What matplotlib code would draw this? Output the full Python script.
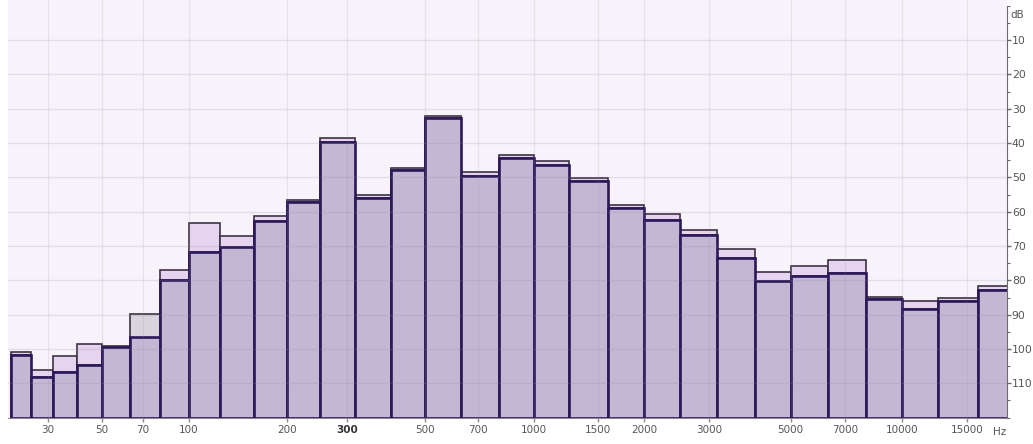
import numpy as np
import matplotlib
matplotlib.use("Agg")
import matplotlib.pyplot as plt

# ---- data ------------------------------------------------------------------
# 1/3-octave band (upper edge) frequencies, Hz
bands = np.array([25, 31.5, 40, 50, 63, 80, 100, 125, 160, 200, 250, 315, 400,
                  500, 630, 800, 1000, 1250, 1600, 2000, 2500, 3150, 4000, 5000,
                  6300, 8000, 10000, 12500, 16000, 20000])
# level of the two overlaid spectra, dB (axis runs downward)
level_a = np.array([100.8, 106.2, 102.0, 98.6, 99.1, 96.5, 76.9, 63.2, 67.1, 61.2,
                    56.6, 38.4, 55.2, 47.2, 32.2, 48.4, 43.5, 45.2, 50.3, 58.1,
                    60.8, 65.2, 71.0, 77.5, 75.9, 74.1, 84.8, 86.1, 85.1, 81.6])
level_b = np.array([101.6, 108.2, 106.7, 104.8, 99.4, 89.7, 79.8, 71.7, 70.4, 62.6,
                    57.3, 39.6, 55.9, 47.9, 32.8, 49.6, 44.2, 46.4, 51.0, 58.9,
                    62.3, 66.9, 73.4, 80.2, 78.8, 77.8, 85.5, 88.4, 86.1, 82.9])
freq_ticks = [30, 50, 70, 100, 200, 300, 500, 700, 1000, 1500, 2000, 3000,
              5000, 7000, 10000, 15000]
db_ticks = [10, 20, 30, 40, 50, 60, 70, 80, 90, 100, 110]

# ---- style -----------------------------------------------------------------
BG = "#f8f3fb"
C_A = "#e6d4ef"
C_B = "#d9d5dc"
C_BOTH = "#c4b7d3"
EDGE_TOP = "#3b3343"
EDGE_BAR = "#2c1858"
TXT = "#555555"
BASE = 120.1

fwd = lambda f: np.log10(np.asarray(f, float) + 20)
inv = lambda x: 10 ** np.asarray(x, float) - 20

fig = plt.figure(figsize=(10.33, 4.44), dpi=100)
ax = fig.add_axes([8 / 1033, 26 / 444, 999 / 1033, 418 / 444])
ax.set_facecolor(BG)
ax.set_xscale("function", functions=(fwd, inv))
ax.set_xlim(19, 19200)
ax.set_ylim(BASE, -1.7)

left = np.concatenate([[bands[0] / 2 ** (1 / 3)], bands[:-1]])
width = bands - left

ax.bar(left, level_a - BASE, width, bottom=BASE, align="edge", color=C_A,
       edgecolor=EDGE_TOP, lw=1.2, zorder=2)
ax.bar(left, level_b - BASE, width, bottom=BASE, align="edge", color=C_B,
       edgecolor=EDGE_TOP, lw=1.2, zorder=3)
both = np.maximum(level_a, level_b)
ax.bar(left, both - BASE, width, bottom=BASE, align="edge", color=C_BOTH,
       edgecolor=EDGE_BAR, lw=1.9, zorder=4)

# grid, faintly visible through the bars
for f in freq_ticks:
    ax.axvline(f, color="#9088a0", alpha=0.16, lw=0.9, zorder=5)
for d in db_ticks:
    ax.axhline(d, color="#9088a0", alpha=0.2, lw=1.0, zorder=5)

# axes decoration
for s in ["left", "top"]:
    ax.spines[s].set_visible(False)
ax.spines["right"].set_color("#6a6a6a")
ax.spines["right"].set_bounds(0, BASE)
ax.spines["bottom"].set_color("#8a8a8a")
ax.yaxis.tick_right()
ax.set_yticks(db_ticks)
ax.set_yticklabels([str(d) for d in db_ticks])
ax.set_yticks(np.arange(0, 121, 5), minor=True)
ax.tick_params(axis="y", which="major", length=3, width=1, color="#6a6a6a",
               labelsize=7.8, labelcolor=TXT, pad=0.5)
ax.tick_params(axis="y", which="minor", length=2, width=0.8, color="#6a6a6a")
ax.set_xticks(freq_ticks)
ax.set_xticklabels([str(f) for f in freq_ticks])
ax.set_xticks([], minor=True)
ax.tick_params(axis="x", length=3, width=1, color="#8a8a8a",
               labelsize=7.5, labelcolor=TXT, pad=2)
for lab in ax.get_xticklabels():
    if lab.get_text() == "300":
        lab.set_fontweight("bold")
        lab.set_color("#333333")

ax.text(1.003, 0.965, "dB", transform=ax.transAxes, fontsize=7.5,
        color=TXT, ha="left", va="center")
ax.text(0.993, -0.033, "Hz", transform=ax.transAxes, fontsize=7.5,
        color=TXT, ha="center", va="center")

fig.savefig("out.png", dpi=100, facecolor="white")
